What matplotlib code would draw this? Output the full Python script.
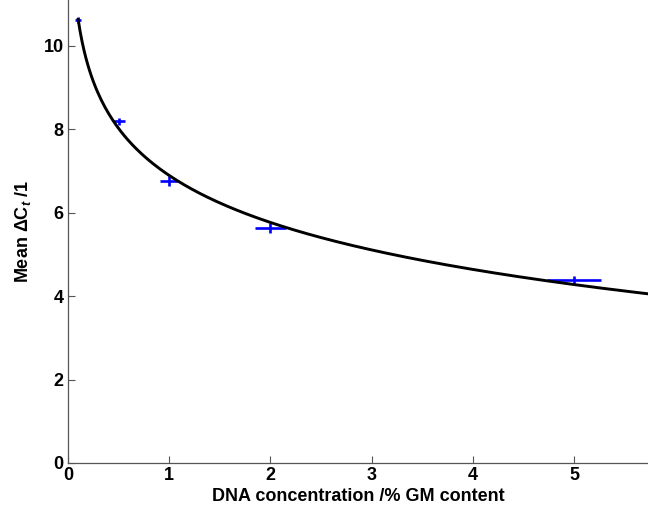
import numpy as np
import matplotlib
matplotlib.use("Agg")
import matplotlib.pyplot as plt

plt.rcParams["font.family"] = ["Liberation Sans", "DejaVu Sans"]
plt.rcParams["font.weight"] = "bold"
plt.rcParams["mathtext.fontset"] = "custom"
plt.rcParams["mathtext.rm"] = "Liberation Sans"
plt.rcParams["mathtext.it"] = "Liberation Sans:italic:bold"
plt.rcParams["mathtext.bf"] = "Liberation Sans:bold"

# measured points (% GM content vs mean delta Ct)
conc = np.array([0.1, 0.5, 1.0, 2.0, 5.0])
mean_dct = np.array([10.62, 8.19, 6.76, 5.63, 4.39])
conc_err = np.array([0.03, 0.06, 0.09, 0.15, 0.27])
dct_err = np.array([0.07, 0.09, 0.11, 0.12, 0.1])

x_ticks = [0, 1, 2, 3, 4, 5]
y_ticks = [0, 2, 4, 6, 8, 10]

# logarithmic fit through the measured points
b, a = np.polyfit(np.log(conc), mean_dct, 1)
x_fit = np.linspace(conc[0], 5.8, 300)
y_fit = a + b * np.log(x_fit)

fig = plt.figure(figsize=(6.48, 5.15), dpi=100)
ax = fig.add_axes([0.105, 0.101, 0.895, 0.899])

ax.plot(x_fit, y_fit, color="black", linewidth=2.1, zorder=3)
ax.errorbar(conc, mean_dct, xerr=conc_err, yerr=dct_err, fmt="none",
            ecolor="#0000ff", elinewidth=1.9, capsize=0, zorder=2)

ax.set_xlim(0, 5.73)
ax.set_ylim(0, 11.1)
ax.set_xticks(x_ticks)
ax.set_yticks(y_ticks)
ax.tick_params(direction="in", length=5, width=0.8, color="#555555",
               labelsize=13, pad=3)
for side in ("top", "right"):
    ax.spines[side].set_visible(False)
for side in ("left", "bottom"):
    ax.spines[side].set_color("#555555")
    ax.spines[side].set_linewidth(0.9)

ax.set_xlabel("DNA concentration /% GM content", fontsize=13, fontweight="bold", labelpad=3)
ax.set_ylabel(r"Mean $\Delta$C$_{\it{t}}$ $\it{/1}$", fontsize=13,
              fontweight="bold", labelpad=8)

fig.savefig("out.png", dpi=100)
